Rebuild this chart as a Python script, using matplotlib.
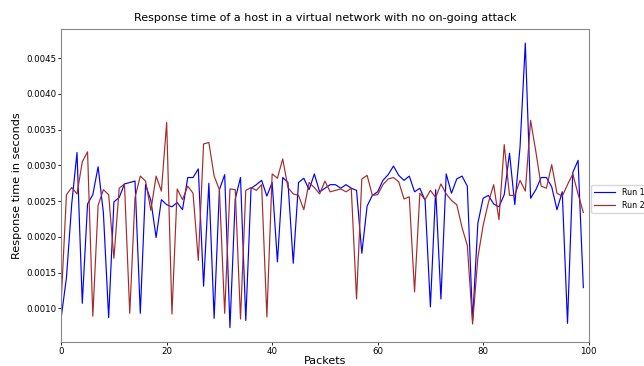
import numpy as np
import matplotlib
matplotlib.use("Agg")
import matplotlib.pyplot as plt


# -----------------------------
# data (packets 0..99)
# -----------------------------
run1 = [0.00087, 0.00143, 0.00246, 0.00318, 0.00107, 0.00246, 0.00259, 0.00298, 0.00234, 0.00087,
        0.00249, 0.00255, 0.00274, 0.00276, 0.00278, 0.00093, 0.00273, 0.00251, 0.00199, 0.00252,
        0.00245, 0.00242, 0.00248, 0.00238, 0.00283, 0.00283, 0.00295, 0.00131, 0.00275, 0.00086,
        0.00266, 0.00287, 0.00073, 0.00253, 0.00283, 0.00083, 0.00268, 0.00273, 0.00279, 0.00257,
        0.00276, 0.00165, 0.00283, 0.00276, 0.00163, 0.00276, 0.00282, 0.00266, 0.00288, 0.00263,
        0.00268, 0.00273, 0.00273, 0.00268, 0.00273, 0.00268, 0.00265, 0.00177, 0.00243, 0.00258,
        0.00263, 0.00279, 0.00287, 0.00299, 0.00286, 0.00279, 0.00285, 0.00263, 0.00268, 0.00251,
        0.00102, 0.00266, 0.00113, 0.00288, 0.00261, 0.00281, 0.00285, 0.00271, 0.00082, 0.00219,
        0.00254, 0.00258, 0.00246, 0.00242, 0.00259, 0.00317, 0.00245, 0.00326, 0.00471, 0.00254,
        0.00266, 0.00283, 0.00283, 0.00270, 0.00238, 0.00263, 0.00079, 0.00290, 0.00307, 0.00129]

run2 = [0.00110, 0.00259, 0.00269, 0.00260, 0.00305, 0.00319, 0.00089, 0.00244, 0.00266, 0.00259,
        0.00170, 0.00268, 0.00274, 0.00093, 0.00255, 0.00285, 0.00278, 0.00237, 0.00285, 0.00264,
        0.00360, 0.00092, 0.00267, 0.00252, 0.00271, 0.00261, 0.00167, 0.00330, 0.00332, 0.00285,
        0.00266, 0.00093, 0.00267, 0.00266, 0.00085, 0.00265, 0.00269, 0.00265, 0.00273, 0.00088,
        0.00288, 0.00282, 0.00309, 0.00269, 0.00260, 0.00258, 0.00238, 0.00276, 0.00269, 0.00260,
        0.00278, 0.00263, 0.00265, 0.00267, 0.00263, 0.00268, 0.00113, 0.00281, 0.00286, 0.00258,
        0.00259, 0.00273, 0.00281, 0.00283, 0.00277, 0.00253, 0.00256, 0.00123, 0.00261, 0.00252,
        0.00265, 0.00255, 0.00274, 0.00260, 0.00251, 0.00245, 0.00213, 0.00188, 0.00078, 0.00171,
        0.00216, 0.00248, 0.00273, 0.00224, 0.00329, 0.00258, 0.00258, 0.00279, 0.00264, 0.00363,
        0.00319, 0.00271, 0.00268, 0.00301, 0.00261, 0.00257, 0.00273, 0.00288, 0.00260, 0.00234]

packets = np.arange(len(run1))


# -----------------------------
# plot
# -----------------------------
fig, ax = plt.subplots(figsize=(6.44, 3.66), dpi=100)
fig.subplots_adjust(left=0.095, right=0.914, top=0.921, bottom=0.066)

ax.plot(packets, run1, color="blue", linewidth=0.85, label="Run 1")
ax.plot(packets, run2, color="brown", linewidth=0.85, label="Run 2")

ax.set_xlim(0, 100)
ax.set_title("Response time of a host in a virtual network with no on-going attack", fontsize=8)
ax.set_xlabel("Packets", fontsize=8, labelpad=0.5)
ax.set_ylabel("Response time in seconds", fontsize=8.1, labelpad=3)
ax.tick_params(labelsize=6.2, length=2, width=0.6, pad=1.5)
for sp in ax.spines.values():
    sp.set_color("#888888")
    sp.set_linewidth(0.8)

ax.legend(loc="center left", bbox_to_anchor=(1.0, 0.457), fontsize=5.8,
          handlelength=2.6, borderaxespad=0.3)

plt.savefig("out.png")
